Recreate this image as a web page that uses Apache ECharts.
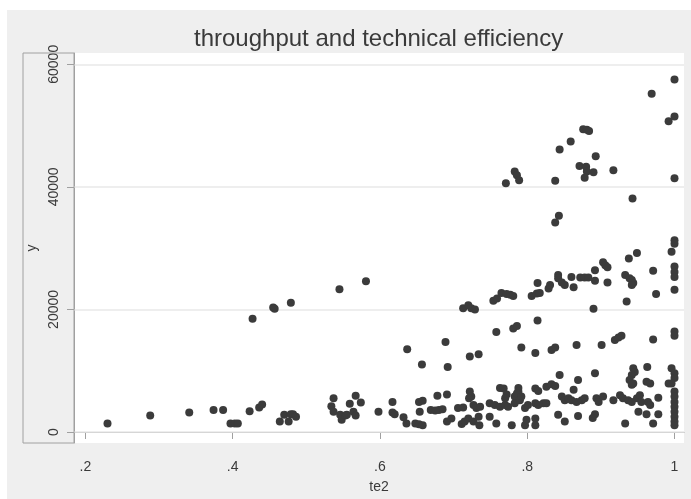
<!DOCTYPE html>
<html>
<head>
<meta charset="utf-8">
<script src="https://cdn.jsdelivr.net/npm/echarts@6/dist/echarts.min.js"></script>
<style>
html,body{margin:0;padding:0;background:#ffffff;}
#bg{position:absolute;left:7px;top:10px;right:0;bottom:0;background:#efefef;}
#chart{position:absolute;left:0;top:0;width:691px;height:499px;}
</style>
</head>
<body>
<div id="bg"></div>
<div id="chart"></div>
<script>
// Chart data
const te2 = [
0.230,0.288,0.341,0.374,0.387,0.397,0.403,0.407,0.423,0.436,0.440,0.427,0.455,0.457,0.479,0.464,0.470,0.476,0.479,0.482,0.486,
0.545,0.581,0.537,0.534,0.537,0.546,0.548,0.553,0.555,0.559,0.564,0.567,0.567,0.574,0.598,
0.617,0.617,0.620,0.632,0.636,0.637,0.648,0.653,0.658,0.653,0.658,0.654,0.657,0.669,0.680,0.685,0.675,0.678,0.691,0.689,0.692,0.691,0.697,
0.706,0.713,0.711,0.715,0.722,0.734,0.713,0.720,0.724,0.729,0.722,0.724,0.721,0.727,0.731,0.736,0.720,0.727,0.734,0.735,0.749,0.749,
0.758,0.754,0.759,
0.811,0.844,0.869,0.763,0.768,0.788,0.788,0.811,0.815,0.826,0.833,0.838,0.772,0.770,0.783,0.786,0.756,0.763,0.770,0.774,0.783,0.790,0.792,
0.797,0.801,0.811,0.815,0.822,0.826,0.847,0.851,0.856,0.863,0.860,0.867,0.874,0.878,0.758,0.779,0.797,0.799,0.811,0.811,0.842,0.851,0.869,
0.892,0.944,0.946,0.942,0.939,0.942,0.944,0.963,0.962,0.967,0.996,1,1,0.992,0.996,1,1,1,1,1,1,1,1,
0.894,0.897,0.903,0.917,0.926,0.930,0.937,0.942,0.949,0.953,0.955,0.964,0.967,0.978,0.892,0.951,0.962,0.978,0.933,0.971,0.889,
0.781,0.786,0.814,0.792,0.833,0.838,0.867,0.901,0.919,0.924,0.928,0.971,1,1,0.890,0.935,0.975,1,
0.765,0.772,0.777,0.781,0.806,0.813,0.817,0.829,0.831,0.814,0.842,0.842,0.847,0.851,0.860,0.863,0.872,0.878,0.883,0.892,0.892,
0.903,0.906,0.909,0.909,0.933,0.939,0.942,0.944,0.942,0.938,0.949,0.971,1,1,0.996,1,1,1,
1,0.969,0.992,1,1,0.876,0.881,0.884,0.859,0.844,0.893,0.871,0.880,0.881,0.890,0.878,0.917,0.838,0.783,0.786,0.789,0.771,0.943,0.843,0.838
];
const y = [
1400,2700,3200,3600,3600,1400,1400,1400,3400,4000,4500,18500,20300,20100,21100,1700,2800,1700,2900,2900,2500,
23300,24600,5500,4200,3300,2800,2000,2700,2800,4600,3300,5900,2700,4800,3300,
4900,3200,2900,2400,1400,13500,1400,1250,1100,4900,5100,3300,11000,3600,3600,3700,3500,5900,6100,14700,10600,1700,2200,
3900,4000,1300,1700,12300,12700,20200,20700,20200,20000,6600,5800,5500,4400,3900,4100,2200,1700,2500,1100,4700,2500,
16300,21400,21800,
12900,9300,8500,7200,7100,7200,6600,7100,6700,7400,7800,7500,6100,5500,5800,6300,4400,4100,4400,4100,4700,5200,5800,
3900,4400,4700,4400,4700,4700,5800,5200,5500,6900,5200,4900,5200,5500,1400,1100,1100,2000,2200,1100,2800,1700,2600,
9600,10400,9800,9300,8500,7700,7900,10600,8200,7900,10400,9600,8800,7900,7900,6600,5800,4900,4100,3300,2500,1700,1100,
5500,4900,5800,5200,6000,5500,5200,4900,5500,6000,4900,4900,4400,5600,2900,3300,2900,2900,1400,1400,2300,
16900,17300,18200,13800,13400,13800,14200,14200,15000,15400,15700,15100,16400,15700,20100,21300,22500,23200,
22700,22500,22400,22200,22200,22600,22700,23400,24000,24300,25600,25100,24400,24000,25300,23600,25200,25200,25200,26400,24700,
27700,27200,26900,24400,25600,25100,24800,24300,24000,28300,29200,26300,31300,30700,29400,27000,26100,25300,
57500,55200,50700,51500,41400,49400,49300,49100,47400,46100,45000,43400,43300,42500,42400,41500,42700,41000,42500,41900,41100,40600,38100,35300,34200
];
const xTicks = [0.2, 0.4, 0.6, 0.8, 1];
const yTicks = [0, 20000, 40000, 60000];

const points = te2.map((v, i) => [v, y[i]]);
const axisGrey = '#a0a0a0';
const txt = '#3a3a3a';
const font = 'Liberation Sans, Arial, Helvetica, sans-serif';

const chart = echarts.init(document.getElementById('chart'), null, {renderer: 'canvas'});
chart.setOption({
  animation: false,
  backgroundColor: 'transparent',
  title: {
    text: 'throughput and technical efficiency',
    left: 189, top: 22,
    textStyle: {fontFamily: font, fontSize: 24, fontWeight: 'normal', color: txt}
  },
  grid: {
    left: 74, top: 53, width: 610, height: 390,
    show: true, backgroundColor: '#ffffff', borderWidth: 0,
    containLabel: false
  },
  xAxis: {
    type: 'value', min: 0.1845, max: 1.0129,
    name: 'te2', nameLocation: 'middle', nameGap: 37,
    nameTextStyle: {fontFamily: font, fontSize: 14, color: txt},
    axisLine: {show: true, lineStyle: {color: axisGrey, width: 1}},
    axisTick: {show: true, length: 7, customValues: xTicks, lineStyle: {color: axisGrey}},
    axisLabel: {
      customValues: xTicks, margin: 17,
      fontFamily: font, fontSize: 14, color: txt,
      formatter: v => (v === 1 ? '1' : String(+v.toFixed(1)).replace(/^0/, ''))
    },
    splitLine: {show: false}
  },
  yAxis: {
    type: 'value', min: -1795, max: 61844,
    name: 'y', nameLocation: 'middle', nameGap: 29, nameRotate: 90,
    nameTextStyle: {fontFamily: font, fontSize: 14, color: txt},
    axisLine: {show: true, lineStyle: {color: axisGrey, width: 1}},
    axisTick: {show: true, length: 7, customValues: yTicks, lineStyle: {color: axisGrey}},
    axisLabel: {
      customValues: yTicks, rotate: 90, margin: 13,
      fontFamily: font, fontSize: 14, color: txt,
      formatter: v => String(Math.round(v))
    },
    splitLine: {show: false}
  },
  graphic: [{
    type: 'rect', z: 100, silent: true,
    shape: {x: 23, y: 53, width: 51, height: 390},
    style: {fill: 'none', stroke: axisGrey, lineWidth: 1}
  }],
  series: [{
    type: 'scatter', data: [], z: 1, silent: true,
    markLine: {
      silent: true, symbol: ['none', 'none'], label: {show: false},
      lineStyle: {color: '#e9e9e9', width: 1.5, type: 'solid'},
      data: yTicks.map(v => ({yAxis: v}))
    }
  }, {
    type: 'scatter', z: 5,
    data: points,
    symbol: 'circle', symbolSize: 8,
    itemStyle: {color: '#3b3b3b', opacity: 1},
    clip: false
  }]
});
</script>
</body>
</html>
